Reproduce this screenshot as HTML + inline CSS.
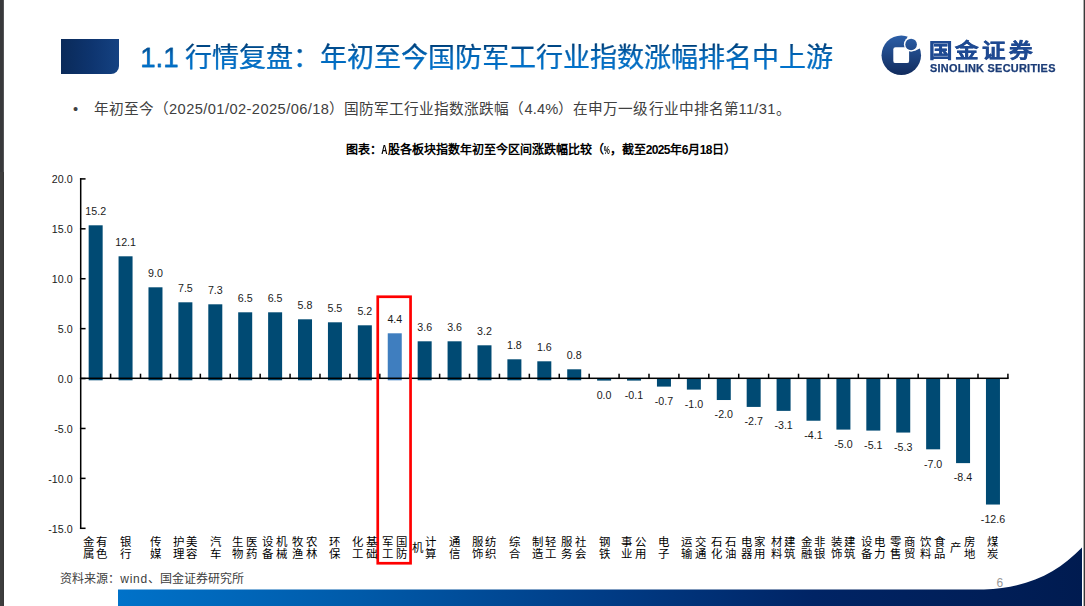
<!DOCTYPE html>
<html lang="zh-CN">
<head>
<meta charset="utf-8">
<title>1.1 行情复盘：年初至今国防军工行业指数涨幅排名中上游</title>
<style>
html,body{margin:0;padding:0;background:#fff;}
body{width:1085px;height:606px;position:relative;overflow:hidden;font-family:"Liberation Sans",sans-serif;color:#000;}
div{position:absolute;white-space:nowrap;}
.blk{left:61px;top:39px;width:58px;height:34.7px;border-bottom-right-radius:8px;background:linear-gradient(to right,#0a2a59,#0e3570 55%,#154282);}
.title{left:140.3px;top:38px;font-weight:500;height:40px;line-height:40px;font-size:27px;color:#0068bd;background:linear-gradient(to bottom,#003a70 6px,#0068bb 17px,#0074cf 32px);-webkit-text-stroke:0.2px #0060ae;-webkit-background-clip:text;background-clip:text;-webkit-text-fill-color:transparent;}
.title .n{font-weight:400;font-size:27.5px;word-spacing:-1.3px;-webkit-text-stroke:0.35px #005fae;}
.bul{left:73px;top:98px;height:22px;line-height:22px;font-size:14.67px;color:#404040;}
.bul .L{letter-spacing:0.42px;}
.bul .L2{letter-spacing:0.3px;}
.bul .L3{letter-spacing:0.15px;}
.bul .dot{display:inline-block;width:21px;}
.ctitle{left:345.5px;top:141px;height:18px;line-height:18px;font-size:12px;font-weight:bold;color:#000;}
.ctitle .d{letter-spacing:-0.67px;}
.ctitle .h{display:inline-block;transform:scaleX(0.72);margin:0 -1.33px;}
.ctitle .p{display:inline-block;font-size:11px;transform:scaleX(0.62);margin:0 -1.9px;}
.yl{left:30px;width:42.6px;text-align:right;font-size:10.67px;line-height:13px;height:13px;color:#1a1a1a;}
.vl{width:40px;text-align:center;font-size:10.67px;line-height:13px;height:13px;color:#1a1a1a;}
.cl{width:13.6px;text-align:center;font-size:11.4px;line-height:12px;color:#000;}
.src{left:60.3px;top:570px;height:18px;line-height:18px;font-size:12px;color:#404040;}
.pg{left:996.5px;top:575px;height:16px;line-height:16px;font-size:12px;color:#999;}
.lg1{left:928.5px;top:35px;height:30px;line-height:30px;font-size:23.5px;font-weight:900;letter-spacing:3.9px;color:#1f4a92;-webkit-text-stroke:0.45px #1f4a92;transform:scaleY(0.86);transform-origin:0 25px;}
.lg2{left:930.3px;top:62.2px;height:13px;line-height:13px;font-size:10px;font-weight:bold;letter-spacing:0.25px;color:#1b3c77;-webkit-text-stroke:0.25px #1b3c77;transform:scaleX(1.09);transform-origin:0 0;}
.j{text-align:justify;text-align-last:justify;}
svg{position:absolute;left:0;top:0;}
</style>
</head>
<body>
<svg width="1085" height="606" viewBox="0 0 1085 606">
<defs>
<linearGradient id="fg" x1="118" y1="0" x2="1085" y2="0" gradientUnits="userSpaceOnUse">
<stop offset="0" stop-color="#0072c9"/><stop offset="0.25" stop-color="#005aa9"/><stop offset="0.5" stop-color="#003c86"/><stop offset="0.72" stop-color="#002465"/><stop offset="1" stop-color="#001b50"/>
</linearGradient>
<linearGradient id="lg" x1="0" y1="35" x2="0" y2="75" gradientUnits="userSpaceOnUse">
<stop offset="0" stop-color="#2c5fa8"/><stop offset="1" stop-color="#112b5d"/>
</linearGradient>
</defs>
<rect x="0" y="0" width="3.85" height="172" fill="#38393b"/><rect x="0" y="172" width="3.85" height="434" fill="#3e3e3e"/><rect x="2.9" y="172" width="0.95" height="434" fill="#343434"/><rect x="1083.6" y="0" width="1.4" height="606" fill="#3a3a3a"/>
<path d="M118 589.6 L984 589.6 C1029 587.5 1057 573 1082 547.5 L1082 606 L118 606 Z" fill="url(#fg)"/>
<g>
<circle cx="901.3" cy="55.2" r="19.75" fill="url(#lg)"/>
<circle cx="911.1" cy="44.45" r="7.2" fill="#fff"/>
<path d="M905.2 41.8 L908.9 34 L926 33 L922.8 47 L914.6 50.9 L911 44.5 Z" fill="#fff"/>
<rect x="893.3" y="47.3" width="15.8" height="15.8" rx="2.2" ry="2.2" fill="#fff"/>
<circle cx="911.1" cy="44.45" r="5.8" fill="url(#lg)"/>
</g>
<rect x="88.66" y="225.30" width="14.00" height="155.00" fill="#004a73"/>
<rect x="118.56" y="256.30" width="14.00" height="124.00" fill="#004a73"/>
<rect x="148.48" y="287.30" width="14.00" height="93.00" fill="#004a73"/>
<rect x="178.38" y="302.30" width="14.00" height="78.00" fill="#004a73"/>
<rect x="208.30" y="304.30" width="14.00" height="76.00" fill="#004a73"/>
<rect x="238.20" y="312.30" width="14.00" height="68.00" fill="#004a73"/>
<rect x="268.12" y="312.30" width="14.00" height="68.00" fill="#004a73"/>
<rect x="298.02" y="319.30" width="14.00" height="61.00" fill="#004a73"/>
<rect x="327.94" y="322.30" width="14.00" height="58.00" fill="#004a73"/>
<rect x="357.84" y="325.30" width="14.00" height="55.00" fill="#004a73"/>
<rect x="387.75" y="333.30" width="14.00" height="47.00" fill="#3f7ebf"/>
<rect x="417.66" y="341.30" width="14.00" height="39.00" fill="#004a73"/>
<rect x="447.57" y="341.30" width="14.00" height="39.00" fill="#004a73"/>
<rect x="477.49" y="345.30" width="14.00" height="35.00" fill="#004a73"/>
<rect x="507.39" y="359.30" width="14.00" height="21.00" fill="#004a73"/>
<rect x="537.31" y="361.30" width="14.00" height="19.00" fill="#004a73"/>
<rect x="567.22" y="369.30" width="14.00" height="11.00" fill="#004a73"/>
<rect x="597.12" y="378.00" width="14.00" height="2.60" fill="#004a73"/>
<rect x="627.04" y="378.00" width="14.00" height="2.60" fill="#004a73"/>
<rect x="656.95" y="378.00" width="14.00" height="8.60" fill="#004a73"/>
<rect x="686.86" y="378.00" width="14.00" height="11.60" fill="#004a73"/>
<rect x="716.77" y="378.00" width="14.00" height="22.02" fill="#004a73"/>
<rect x="746.68" y="378.00" width="14.00" height="28.92" fill="#004a73"/>
<rect x="776.59" y="378.00" width="14.00" height="32.87" fill="#004a73"/>
<rect x="806.50" y="378.00" width="14.00" height="42.73" fill="#004a73"/>
<rect x="836.41" y="378.00" width="14.00" height="51.60" fill="#004a73"/>
<rect x="866.32" y="378.00" width="14.00" height="52.59" fill="#004a73"/>
<rect x="896.23" y="378.00" width="14.00" height="54.56" fill="#004a73"/>
<rect x="926.14" y="378.00" width="14.00" height="71.32" fill="#004a73"/>
<rect x="956.05" y="378.00" width="14.00" height="85.12" fill="#004a73"/>
<rect x="985.96" y="378.00" width="14.00" height="126.54" fill="#004a73"/>
<rect x="79.95" y="178.2" width="1.5" height="350.8" fill="#000"/>
<rect x="79.95" y="178.15" width="5.6" height="1.5" fill="#000"/>
<rect x="79.95" y="228.06" width="5.6" height="1.5" fill="#000"/>
<rect x="79.95" y="277.98" width="5.6" height="1.5" fill="#000"/>
<rect x="79.95" y="327.89" width="5.6" height="1.5" fill="#000"/>
<rect x="79.95" y="377.81" width="5.6" height="1.5" fill="#000"/>
<rect x="79.95" y="427.72" width="5.6" height="1.5" fill="#000"/>
<rect x="79.95" y="477.63" width="5.6" height="1.5" fill="#000"/>
<rect x="79.95" y="527.55" width="5.6" height="1.5" fill="#000"/>
<rect x="79.95" y="377.55" width="928.71" height="1.5" fill="#000"/>
<rect x="109.86" y="373.70" width="1.5" height="4.6" fill="#000"/>
<rect x="139.77" y="373.70" width="1.5" height="4.6" fill="#000"/>
<rect x="169.68" y="373.70" width="1.5" height="4.6" fill="#000"/>
<rect x="199.59" y="373.70" width="1.5" height="4.6" fill="#000"/>
<rect x="229.50" y="373.70" width="1.5" height="4.6" fill="#000"/>
<rect x="259.41" y="373.70" width="1.5" height="4.6" fill="#000"/>
<rect x="289.32" y="373.70" width="1.5" height="4.6" fill="#000"/>
<rect x="319.23" y="373.70" width="1.5" height="4.6" fill="#000"/>
<rect x="349.14" y="373.70" width="1.5" height="4.6" fill="#000"/>
<rect x="379.05" y="373.70" width="1.5" height="4.6" fill="#000"/>
<rect x="408.96" y="373.70" width="1.5" height="4.6" fill="#000"/>
<rect x="438.87" y="373.70" width="1.5" height="4.6" fill="#000"/>
<rect x="468.78" y="373.70" width="1.5" height="4.6" fill="#000"/>
<rect x="498.69" y="373.70" width="1.5" height="4.6" fill="#000"/>
<rect x="528.60" y="373.70" width="1.5" height="4.6" fill="#000"/>
<rect x="558.51" y="373.70" width="1.5" height="4.6" fill="#000"/>
<rect x="588.42" y="373.70" width="1.5" height="4.6" fill="#000"/>
<rect x="618.33" y="373.70" width="1.5" height="4.6" fill="#000"/>
<rect x="648.24" y="373.70" width="1.5" height="4.6" fill="#000"/>
<rect x="678.15" y="373.70" width="1.5" height="4.6" fill="#000"/>
<rect x="708.06" y="373.70" width="1.5" height="4.6" fill="#000"/>
<rect x="737.97" y="373.70" width="1.5" height="4.6" fill="#000"/>
<rect x="767.88" y="373.70" width="1.5" height="4.6" fill="#000"/>
<rect x="797.79" y="373.70" width="1.5" height="4.6" fill="#000"/>
<rect x="827.70" y="373.70" width="1.5" height="4.6" fill="#000"/>
<rect x="857.61" y="373.70" width="1.5" height="4.6" fill="#000"/>
<rect x="887.52" y="373.70" width="1.5" height="4.6" fill="#000"/>
<rect x="917.43" y="373.70" width="1.5" height="4.6" fill="#000"/>
<rect x="947.34" y="373.70" width="1.5" height="4.6" fill="#000"/>
<rect x="977.25" y="373.70" width="1.5" height="4.6" fill="#000"/>
<rect x="1007.16" y="373.70" width="1.5" height="4.6" fill="#000"/>
<rect x="377.75" y="296.75" width="32.8" height="266.5" fill="none" stroke="#ff0000" stroke-width="2.7"/>
</svg>
<div class="blk"></div>
<div class="title j" style="width:692.7px"><span class="n">1.1 </span>行情复盘：年初至今国防军工行业指数涨幅排名中上游</div>
<div class="bul j" style="width:717.6px"><span class="dot">•</span>年初至今（<span class="L">2025/01/02-2025/06/18</span>）国防军工行业指数涨跌幅（<span class="L3">4.4%</span>）在申万一级行业中排名第<span class="L2">11/31</span>。</div>
<div class="ctitle j" style="width:390.2px">图表：<span class="h">A</span>股各板块指数年初至今区间涨跌幅比较（<span class="p">%</span>，截至<span class="d">2025</span>年<span class="d">6</span>月<span class="d">18</span>日）</div>
<div class="lg1 j" style="width:107.7px">国金证券</div>
<div class="lg2">SINOLINK SECURITIES</div>
<div class="yl" style="top:173.4px">20.0</div>
<div class="yl" style="top:223.3px">15.0</div>
<div class="yl" style="top:273.2px">10.0</div>
<div class="yl" style="top:323.1px">5.0</div>
<div class="yl" style="top:373.1px">0.0</div>
<div class="yl" style="top:423.0px">-5.0</div>
<div class="yl" style="top:472.9px">-10.0</div>
<div class="yl" style="top:522.8px">-15.0</div>
<div class="vl" style="left:75.7px;top:205.3px">15.2</div>
<div class="vl" style="left:105.6px;top:236.3px">12.1</div>
<div class="vl" style="left:135.5px;top:267.3px">9.0</div>
<div class="vl" style="left:165.4px;top:282.3px">7.5</div>
<div class="vl" style="left:195.3px;top:284.3px">7.3</div>
<div class="vl" style="left:225.2px;top:292.3px">6.5</div>
<div class="vl" style="left:255.1px;top:292.3px">6.5</div>
<div class="vl" style="left:285.0px;top:299.3px">5.8</div>
<div class="vl" style="left:314.9px;top:302.3px">5.5</div>
<div class="vl" style="left:344.8px;top:305.3px">5.2</div>
<div class="vl" style="left:374.8px;top:313.3px">4.4</div>
<div class="vl" style="left:404.7px;top:321.3px">3.6</div>
<div class="vl" style="left:434.6px;top:321.3px">3.6</div>
<div class="vl" style="left:464.5px;top:325.3px">3.2</div>
<div class="vl" style="left:494.4px;top:339.3px">1.8</div>
<div class="vl" style="left:524.3px;top:341.3px">1.6</div>
<div class="vl" style="left:554.2px;top:349.3px">0.8</div>
<div class="vl" style="left:584.1px;top:389.4px">0.0</div>
<div class="vl" style="left:614.0px;top:388.9px">-0.1</div>
<div class="vl" style="left:643.9px;top:394.9px">-0.7</div>
<div class="vl" style="left:673.9px;top:397.9px">-1.0</div>
<div class="vl" style="left:703.8px;top:408.3px">-2.0</div>
<div class="vl" style="left:733.7px;top:415.2px">-2.7</div>
<div class="vl" style="left:763.6px;top:419.2px">-3.1</div>
<div class="vl" style="left:793.5px;top:429.0px">-4.1</div>
<div class="vl" style="left:823.4px;top:437.9px">-5.0</div>
<div class="vl" style="left:853.3px;top:438.9px">-5.1</div>
<div class="vl" style="left:883.2px;top:440.9px">-5.3</div>
<div class="vl" style="left:913.1px;top:457.6px">-7.0</div>
<div class="vl" style="left:943.0px;top:471.4px">-8.4</div>
<div class="vl" style="left:973.0px;top:512.8px">-12.6</div>
<div class="cl" style="left:95.2px;top:535.8px">有<br>色</div><div class="cl" style="left:81.7px;top:535.8px">金<br>属</div>
<div class="cl" style="left:118.8px;top:535.8px">银<br>行</div>
<div class="cl" style="left:148.7px;top:535.8px">传<br>媒</div>
<div class="cl" style="left:184.9px;top:535.8px">美<br>容</div><div class="cl" style="left:171.4px;top:535.8px">护<br>理</div>
<div class="cl" style="left:208.5px;top:535.8px">汽<br>车</div>
<div class="cl" style="left:244.7px;top:535.8px">医<br>药</div><div class="cl" style="left:231.2px;top:535.8px">生<br>物</div>
<div class="cl" style="left:274.6px;top:535.8px">机<br>械</div><div class="cl" style="left:261.1px;top:535.8px">设<br>备</div>
<div class="cl" style="left:304.5px;top:535.8px">农<br>林</div><div class="cl" style="left:291.0px;top:535.8px">牧<br>渔</div>
<div class="cl" style="left:328.1px;top:535.8px">环<br>保</div>
<div class="cl" style="left:364.3px;top:535.8px">基<br>础</div><div class="cl" style="left:350.8px;top:535.8px">化<br>工</div>
<div class="cl" style="left:394.3px;top:535.8px">国<br>防</div><div class="cl" style="left:380.8px;top:535.8px">军<br>工</div>
<div class="cl" style="left:424.2px;top:535.8px">计<br>算</div><div class="cl" style="left:410.7px;top:541.8px">机</div>
<div class="cl" style="left:447.8px;top:535.8px">通<br>信</div>
<div class="cl" style="left:484.0px;top:535.8px">纺<br>织</div><div class="cl" style="left:470.5px;top:535.8px">服<br>饰</div>
<div class="cl" style="left:507.6px;top:535.8px">综<br>合</div>
<div class="cl" style="left:543.8px;top:535.8px">轻<br>工</div><div class="cl" style="left:530.3px;top:535.8px">制<br>造</div>
<div class="cl" style="left:573.7px;top:535.8px">社<br>会</div><div class="cl" style="left:560.2px;top:535.8px">服<br>务</div>
<div class="cl" style="left:597.3px;top:535.8px">钢<br>铁</div>
<div class="cl" style="left:633.5px;top:535.8px">公<br>用</div><div class="cl" style="left:620.0px;top:535.8px">事<br>业</div>
<div class="cl" style="left:657.1px;top:535.8px">电<br>子</div>
<div class="cl" style="left:693.4px;top:535.8px">交<br>通</div><div class="cl" style="left:679.9px;top:535.8px">运<br>输</div>
<div class="cl" style="left:723.3px;top:535.8px">石<br>油</div><div class="cl" style="left:709.8px;top:535.8px">石<br>化</div>
<div class="cl" style="left:753.2px;top:535.8px">家<br>用</div><div class="cl" style="left:739.7px;top:535.8px">电<br>器</div>
<div class="cl" style="left:783.1px;top:535.8px">建<br>筑</div><div class="cl" style="left:769.6px;top:535.8px">材<br>料</div>
<div class="cl" style="left:813.0px;top:535.8px">非<br>银</div><div class="cl" style="left:799.5px;top:535.8px">金<br>融</div>
<div class="cl" style="left:842.9px;top:535.8px">建<br>筑</div><div class="cl" style="left:829.4px;top:535.8px">装<br>饰</div>
<div class="cl" style="left:872.8px;top:535.8px">电<br>力</div><div class="cl" style="left:859.3px;top:535.8px">设<br>备</div>
<div class="cl" style="left:902.7px;top:535.8px">商<br>贸</div><div class="cl" style="left:889.2px;top:535.8px">零<br>售</div>
<div class="cl" style="left:932.6px;top:535.8px">食<br>品</div><div class="cl" style="left:919.1px;top:535.8px">饮<br>料</div>
<div class="cl" style="left:962.5px;top:535.8px">房<br>地</div><div class="cl" style="left:949.0px;top:541.8px">产</div>
<div class="cl" style="left:986.2px;top:535.8px">煤<br>炭</div>
<div class="src j" style="width:183.6px">资料来源：<span style="letter-spacing:0.7px">wind</span>、国金证券研究所</div>
<div class="pg">6</div>
</body>
</html>
